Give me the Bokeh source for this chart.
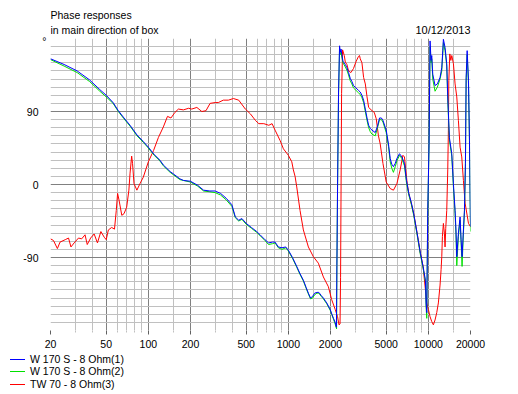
from bokeh.plotting import figure
from bokeh.layouts import column
from bokeh.models import FixedTicker, Label, Range1d, LinearAxis, Div
from bokeh.embed import file_html
from bokeh.resources import INLINE

# ---- data (frequency in Hz, phase in degrees) ----
blue_freq = [20, 25, 31, 38, 45, 50, 56, 61, 67, 74, 83, 92, 100, 110, 121, 128, 143, 151, 168, 178,
             200, 225, 248, 275, 300, 328, 360, 395, 418, 442, 466, 500, 545, 594, 628, 680, 722, 770,
             804, 848, 900, 958, 1000, 1070, 1148, 1212, 1280, 1340, 1390, 1440, 1490, 1540, 1600, 1650,
             1720, 1779, 1880, 1990, 2047, 2101, 2160, 2205, 2222, 2246, 2283, 2322, 2350, 2380, 2415,
             2455, 2551, 2620, 2692, 2765, 2844, 2920, 3003, 3170, 3262, 3355, 3447, 3546, 3647, 3746,
             3850, 3960, 4175, 4333, 4480, 4620, 4740, 5000, 5190, 5340, 5480, 5630, 5800, 5960, 6220,
             6470, 6750, 6980, 7250, 7550, 7860, 8310, 8780, 9170, 9530, 9630, 9740, 9900, 10116, 10284,
             10455, 10575, 10750, 11166, 11594, 12123, 12470, 12680, 12808, 13160, 13530, 13760, 14130,
             14700, 15100, 15520, 15750, 15960, 16390, 16850, 17130, 17410, 17800, 18100, 18400, 18620,
             18930, 19350, 19670, 20000]
blue_phase = [155, 148, 140, 129, 117, 110, 101, 91, 82, 73, 61, 53, 46, 37, 30, 24, 16, 13, 7, 5,
              4, -1, -7, -8, -8, -11, -17, -25, -40, -44, -42, -48, -53, -58, -62, -68, -72, -71,
              -71, -77, -78, -77, -81, -90, -101, -110, -118, -127, -134, -140, -138, -134, -133, -133,
              -137, -140, -146, -154, -160, -165, -170, -176, -100, -3, 114, 171, 163, 167, 159,
              152, 148, 144, 138, 131, 127, 122, 120, 116, 114, 110, 104, 93, 82, 73,
              69, 67, 64, 72, 82, 82, 79, 67, 50, 32, 25, 22, 26, 32, 38,
              34, 26, 5, -11, -22, -36, -60, -85, -101, -118, -146, -158, -32, 50, 177,
              153, 159, 136, 122, 124, 132, 144, 165, 179, 169, 149, 108, 58,
              38, 1, -32, -56, -89, -60, -40, -68, -89, -56, -32, 26, 132,
              165, 128, 54, -52]

green_freq = [20, 25, 31, 38, 45, 50, 56, 61, 67, 74, 83, 92, 100, 110, 121, 128, 143, 151, 168, 178,
              200, 225, 248, 275, 300, 328, 360, 395, 418, 442, 466, 500, 545, 594, 628, 680, 722, 770,
              804, 848, 900, 958, 1000, 1070, 1148, 1212, 1280, 1340, 1390, 1440, 1490, 1540, 1600, 1650,
              1720, 1779, 1880, 1990, 2047, 2101, 2160, 2210, 2222, 2246, 2283, 2322, 2350, 2380, 2415,
              2455, 2551, 2620, 2692, 2765, 2844, 2920, 3003, 3170, 3262, 3355, 3447, 3546, 3647, 3746,
              3850, 3960, 4175, 4333, 4480, 4620, 4740, 5000, 5190, 5340, 5480, 5630, 5800, 5960, 6220,
              6470, 6750, 6980, 7250, 7550, 7860, 8310, 8780, 9170, 9530, 9630, 9740, 9900, 10116, 10284,
              10455, 10575, 10750, 11166, 11594, 12123, 12470, 12680, 12808, 13160, 13530, 13760, 14130,
              14700, 15100, 15520, 15750, 15960, 16390, 16850, 17130, 17410, 17800, 18100, 18400, 18620,
              18930, 19350, 19670, 20000]
green_phase = [154, 146, 138, 127, 115, 108, 100, 90, 81, 72, 60, 52, 45, 36, 29, 23, 15, 12, 6, 5,
               3, -2, -8, -9, -10, -13, -19, -27, -41, -45, -43, -49, -54, -59, -63, -69, -74, -73,
               -72, -78, -80, -78, -82, -91, -102, -111, -119, -128, -135, -141, -140, -136, -134, -134,
               -138, -141, -147, -155, -161, -166, -172, -178, -100, -4, 110, 168, 160, 163, 156,
               150, 145, 141, 135, 128, 124, 119, 117, 113, 111, 107, 101, 90, 79, 70,
               65, 62, 60, 70, 80, 80, 77, 64, 47, 28, 20, 15, 22, 29, 36,
               32, 23, 2, -13, -24, -38, -62, -87, -103, -120, -150, -165, -35, 48, 170,
               150, 155, 130, 115, 120, 130, 140, 162, 175, 165, 146, 104, 55,
               35, -3, -36, -62, -100, -64, -44, -72, -101, -60, -35, 22, 128,
               160, 124, 50, -58]

red_freq = [20, 21, 22.4, 23.4, 25.5, 26.9, 28, 29.5, 31.7, 33.4, 35.3, 36.6, 38.7, 41, 43.3, 45.8,
            48.4, 50, 51.8, 54.7, 57.3, 59, 60.3, 61.7, 64.6, 67, 70, 72.6, 74, 76, 77.1, 79, 82.8,
            87.1, 92, 100, 109, 118, 128, 137, 145, 155, 164, 178, 194, 204, 222, 241, 258, 276, 300,
            316, 343, 373, 405, 442, 493, 536, 582, 615, 668, 725, 765, 804, 874, 922, 1000, 1058,
            1086, 1117, 1148, 1212, 1280, 1390, 1509, 1638, 1779, 1931, 2040, 2160, 2246, 2300, 2340,
            2360, 2380, 2400, 2440, 2509, 2551, 2620, 2692, 2797, 2920, 3053, 3170, 3224, 3262, 3355,
            3447, 3546, 3647, 3746, 3960, 4105, 4245, 4400, 4530, 4740, 5000, 5340, 5630, 5960, 6290,
            6580, 6750, 7060, 7250, 7860, 8310, 8780, 9170, 9530, 9740, 10000, 10284, 10575, 10860,
            11166, 11480, 11790, 12123, 12330, 12470, 12600, 12808, 13020, 13160, 13310, 13530, 13760,
            13900, 14000, 14230, 14470, 14710, 15100, 15520, 15960, 16390, 16850, 17320, 17800, 18300,
            19350, 20000]
red_phase = [-67, -69, -79, -71, -68, -66, -77, -72, -66, -67, -62, -74, -66, -61, -72, -58,
             -65, -68, -56, -53, -55, -32, -11, -19, -38, -36, -28, -7, 14, 35, 26, 1, -7,
             1, 9, 28, 42, 58, 71, 84, 82, 89, 93, 92, 94, 93, 95, 90, 91, 100, 101,
             101, 104, 104, 106, 104, 93, 87, 79, 75, 75, 73, 75, 67, 54, 44, 36, 28,
             18, 10, -3, -32, -56, -77, -89, -97, -114, -126, -142, -154, -163, -173, -172,
             -115, -3, 112, 166, 159, 151, 148, 140, 138, 143, 152, 158, 159, 155, 150,
             132, 124, 108, 95, 91, 89, 81, 60, 50, 26, 3, -5, -7, 1, 18,
             36, 34, 1, -11, -36, -60, -85, -101, -130, -146, -154, -163, -169, -173,
             -167, -158, -146, -124, -105, -89, -64, -48, -60, -77, -54, -32, 18,
             67, 128, 161, 153, 159, 149, 124, 108, 79, 46, 34, 5, -23,
             -48, -52]

series_labels = ["W 170 S - 8 Ohm(1)", "W 170 S - 8 Ohm(2)", "TW 70 - 8 Ohm(3)"]
series_colors = ["#0000ff", "#00e000", "#ff0000"]

title_lines = ["Phase responses", "in main direction of box"]
date_text = "10/12/2013"

x_major = [20, 50, 100, 200, 500, 1000, 2000, 5000, 10000, 20000]
x_minor = [30, 40, 60, 70, 80, 90, 150, 300, 400, 600, 700, 800, 900, 1500,
           3000, 4000, 6000, 7000, 8000, 9000, 15000]
y_major = [-90, 0, 90, 180]
y_minor = [v for v in range(-170, 180, 10) if v not in (-90, 0, 90)]

FONT = "Liberation Sans"
FS = "10.5px"
W = 510
FRAME_L, FRAME_R = 50, 470   # pixel columns of the plot frame

# ---- top strip with the titles (its frame lines up with the chart frame) ----
top = figure(width=W, height=34, x_range=Range1d(FRAME_L, FRAME_R), y_range=Range1d(0, 34),
             output_backend="svg", toolbar_location=None,
             min_border=0, min_border_left=0, min_border_right=0, min_border_top=0, min_border_bottom=0,
             x_axis_location=None, y_axis_location=None)
top.outline_line_color = None
top.background_fill_color = "white"
top.border_fill_color = "white"
top.grid.visible = False
top.add_layout(Label(x=FRAME_L, y=20, text=title_lines[0], text_font=FONT, text_font_size=FS,
                     text_color="black", text_align="left", text_baseline="alphabetic"))
top.add_layout(Label(x=FRAME_L, y=5, text=title_lines[1], text_font=FONT, text_font_size=FS,
                     text_color="black", text_align="left", text_baseline="alphabetic"))
top.add_layout(Label(x=FRAME_R, y=5, text=date_text, text_font=FONT, text_font_size="11px",
                     text_color="black", text_align="right", text_baseline="alphabetic"))

# ---- main chart ----
p = figure(width=W, height=318, x_axis_type="log",
           x_range=Range1d(20, 20000), y_range=Range1d(-180, 180),
           output_backend="svg", toolbar_location=None,
           min_border_left=FRAME_L, min_border_right=W - FRAME_R, min_border_top=4, min_border_bottom=22)
p.outline_line_color = None
p.background_fill_color = "white"
p.border_fill_color = "white"

p.xaxis.ticker = FixedTicker(ticks=x_major, minor_ticks=x_minor)
p.xaxis.major_label_overrides = {v: str(v) for v in x_major}
p.xaxis.axis_line_color = None
p.xaxis.major_tick_line_color = "#606060"
p.xaxis.major_tick_out = 4
p.xaxis.major_tick_in = 0
p.xaxis.minor_tick_line_color = "#c0c0c0"
p.xaxis.minor_tick_out = 2
p.xaxis.minor_tick_in = 0
p.xaxis.major_label_standoff = 5
p.xaxis.major_label_text_font = FONT
p.xaxis.major_label_text_font_size = FS
p.xaxis.major_label_text_color = "black"

num_axis = p.yaxis[0]
num_axis.ticker = FixedTicker(ticks=y_major, minor_ticks=y_minor)
num_axis.major_label_overrides = {-90: "-90", 0: "0", 90: "90", 180: ""}

deg_axis = LinearAxis(ticker=FixedTicker(ticks=[177]), major_label_overrides={177: "°"})
for ax, standoff in ((num_axis, 1), (deg_axis, 4)):
    ax.axis_line_color = None
    ax.major_tick_line_color = None
    ax.minor_tick_line_color = None
    ax.major_tick_out = 0
    ax.major_tick_in = 0
    ax.minor_tick_out = 0
    ax.minor_tick_in = 0
    ax.major_label_standoff = standoff
    ax.major_label_text_font = FONT
    ax.major_label_text_font_size = FS
    ax.major_label_text_color = "black"
p.left = [deg_axis, num_axis]

for g in (p.xgrid, p.ygrid):
    g.grid_line_color = "#808080"
    g.grid_line_width = 1
    g.minor_grid_line_color = "#c0c0c0"
    g.minor_grid_line_width = 1

p.line(red_freq, red_phase, line_color=series_colors[2], line_width=1)
p.line(green_freq, green_phase, line_color=series_colors[1], line_width=1)
p.line(blue_freq, blue_phase, line_color=series_colors[0], line_width=1)

# ---- legend strip below the chart ----
rows = []
for i, (lab, col) in enumerate(zip(series_labels, series_colors)):
    ly = 7 + round(12.4 * i)
    rows.append(
        f'<div style="position:absolute;left:10px;top:{ly}px;width:15px;height:0;'
        f'border-top:1px solid {col};"></div>'
        f'<div style="position:absolute;left:30px;top:{ly - 6}px;line-height:13px;'
        f'white-space:nowrap;">{lab}</div>')
legend_div = Div(text='<div style="position:relative;width:%dpx;height:40px;">%s</div>' % (W, "".join(rows)),
                 width=W, height=40, margin=0,
                 styles={"font-family": FONT, "font-size": FS, "color": "black"})

layout = column(top, p, legend_div, spacing=0)
open("out.html", "w").write(file_html(layout, INLINE))
